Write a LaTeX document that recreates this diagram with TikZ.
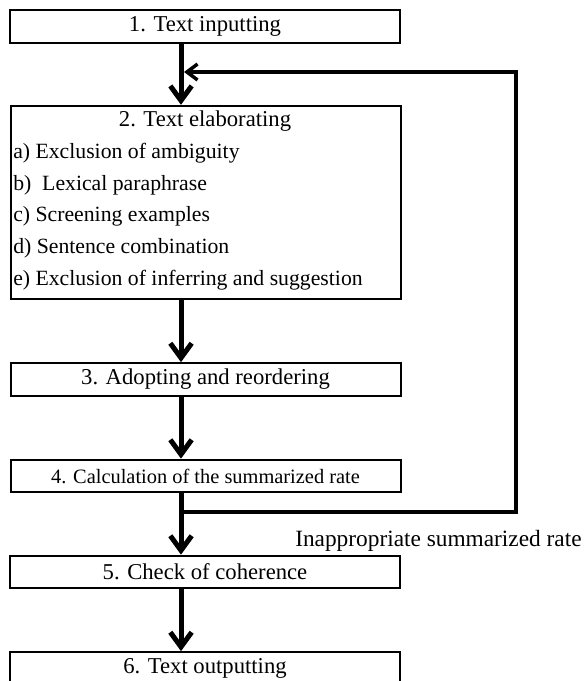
\documentclass[tikz,border=0pt]{standalone}
\usepackage{fontspec}
\setmainfont{Liberation Serif}
\usetikzlibrary{arrows.meta}
\tikzset{
  stepbox/.style={draw, line width=1.5pt, minimum width=292.5pt, minimum height=24.5pt, inner sep=0pt, font=\fontsize{17}{20}\selectfont},
  bigbox/.style={draw, line width=1.5pt, minimum width=292.5pt, minimum height=145pt, inner sep=0pt},
  itemtext/.style={anchor=west, inner sep=0pt, font=\fontsize{16.3}{19}\selectfont},
  mainarrow/.style={line width=3.75pt, -{Straight Barb[length=11pt, width=16pt]}},
  fbarrow/.style={line width=2.6pt, -{Straight Barb[length=8pt, width=12pt]}},
}
\begin{document}
\begin{tikzpicture}[x=0.75pt, y=-0.75pt]
\useasboundingbox (0,0) rectangle (584,681);
% boxes
\node[stepbox] (b1) at (205,26.5) {1. Text inputting};
\node[bigbox] (b2) at (205.5,202.5) {};
\node[stepbox] (b3) at (205.5,379.5) {3. Adopting and reordering};
\node[stepbox, font=\fontsize{15.3}{18}\selectfont] (b4) at (205.5,476) {4. Calculation of the summarized rate};
\node[stepbox] (b5) at (205,572) {5. Check of coherence};
\node[stepbox] (b6) at (205,668.5) {6. Text outputting};
% box 2 texts
\node[inner sep=0pt, font=\fontsize{17}{20}\selectfont] (t2) at (205,121) {2. Text elaborating};
\node[itemtext] (ia) at (13,153) {a) Exclusion of ambiguity};
\node[itemtext] (ib) at (13,185) {b)\hspace{0.5em}Lexical paraphrase};
\node[itemtext] (ic) at (13,216.5) {c) Screening examples};
\node[itemtext] (id) at (13,248) {d) Sentence combination};
\node[itemtext] (ie) at (13,280) {e) Exclusion of inferring and suggestion};
% label
\node[anchor=west, inner sep=0pt, font=\fontsize{17.5}{20}\selectfont] (lab) at (295,541) {Inappropriate summarized rate};
% coordinates
\coordinate (ax) at (181,0);
\coordinate (fbtop) at (516,72);
\coordinate (fbbot) at (516,512);
\coordinate (fbend) at (184,72);
% main arrows
\draw[mainarrow] (b1.south -| ax) -- (b2.north -| ax);
\draw[mainarrow] (b2.south -| ax) -- (b3.north -| ax);
\draw[mainarrow] (b3.south -| ax) -- (b4.north -| ax);
\draw[mainarrow] (b4.south -| ax) -- (b5.north -| ax);
\draw[mainarrow] (b5.south -| ax) -- (b6.north -| ax);
% feedback loop
\draw[fbarrow] (ax |- fbbot) -- (fbbot) -- (fbtop) -- (fbend);
\end{tikzpicture}
\end{document}
